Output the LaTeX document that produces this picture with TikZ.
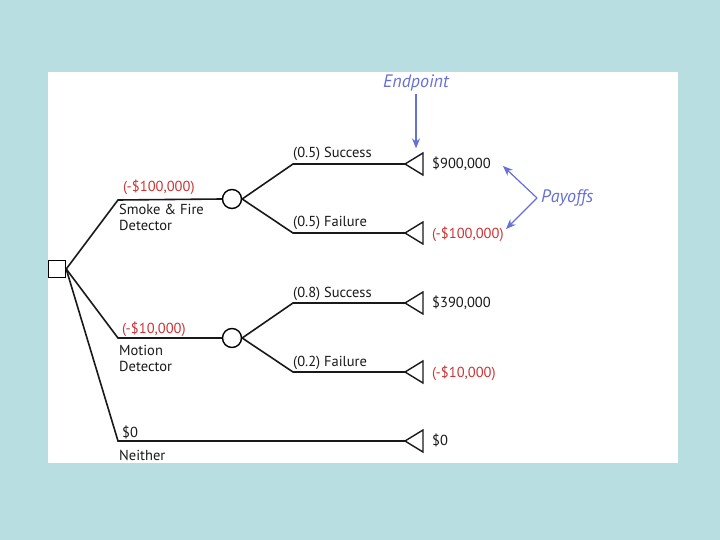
\documentclass[tikz,border=0pt]{standalone}
\usepackage{fontspec}
\setmainfont{PT Sans}
\usetikzlibrary{arrows.meta}
\definecolor{bgc}{RGB}{184,222,226}
\definecolor{payred}{RGB}{205,52,52}
\definecolor{noteblue}{RGB}{102,112,214}
\begin{document}
\begin{tikzpicture}[x=1pt,y=-1pt,
  ln/.style={line width=1.6pt,black!90},
  lbl/.style={font=\fontsize{14.5}{15.5}\selectfont,inner sep=0pt,anchor=base west,text=black!90,align=left},
  rlbl/.style={lbl,text=payred},
  note/.style={font=\fontsize{18}{20}\selectfont\itshape,inner sep=0pt,text=noteblue},
  narrow/.style={draw=noteblue,line width=1.2pt,-{Stealth[length=10pt,width=8pt]}},
  chance/.style={draw,circle,line width=1.4pt,minimum size=19pt,inner sep=0pt},
  decision/.style={draw,rectangle,line width=1.4pt,minimum size=17pt,inner sep=0pt},
  endtri/.style={line width=1.4pt,black!90}]
\fill[bgc] (0,0) rectangle (720,540);
\fill[white] (48,72) rectangle (678,463);
\useasboundingbox (0,0) rectangle (720,540);

% decision and chance nodes
\node[decision] (sq) at (57,269) {};
\node[chance] (ch1) at (232,199) {};
\node[chance] (ch2) at (232,338) {};

% corner coordinates
\coordinate (k1) at (118,200);
\coordinate (k2) at (118,338);
\coordinate (k3) at (118,441);
\coordinate (u1) at (293,164);
\coordinate (d1) at (293,233);
\coordinate (u2) at (293,303);
\coordinate (d2) at (293,372);

% endpoint tips
\coordinate (e1) at (405,164);
\coordinate (e2) at (405,233);
\coordinate (e3) at (405,303);
\coordinate (e4) at (405,372);
\coordinate (e5) at (405,441);

% branches
\draw[ln] (sq.east) -- (k1) -- (ch1.west);
\draw[ln] (sq.east) -- (k2) -- (ch2.west);
\draw[ln] (sq.east) -- (k3) -- (e5);
\draw[ln] (ch1.east) -- (u1) -- (e1);
\draw[ln] (ch1.east) -- (d1) -- (e2);
\draw[ln] (ch2.east) -- (u2) -- (e3);
\draw[ln] (ch2.east) -- (d2) -- (e4);

% endpoint triangles
\foreach \e in {e1,e2,e3,e4,e5}{
  \draw[endtri] (\e) -- ++(18,-11) -- ++(0,22) -- cycle;
}

% branch labels
\node[rlbl] (c1) at (123,192) {(-\$100,000)};
\node[lbl] (n1) at (119,230) {Smoke \& Fire\\Detector};
\node[rlbl] (c2) at (122,333) {(-\$10,000)};
\node[lbl] (n2) at (119,371) {Motion\\Detector};
\node[lbl] (c3) at (122,437) {\$0};
\node[lbl] (n3) at (119,460) {Neither};

\node[lbl] (p1) at (293,158) {(0.5) Success};
\node[lbl] (p2) at (293,226) {(0.5) Failure};
\node[lbl] (p3) at (293,297) {(0.8) Success};
\node[lbl] (p4) at (293,366) {(0.2) Failure};

% payoffs
\node[lbl] (v1) at (432,169) {\$900,000};
\node[rlbl] (v2) at (432,238) {(-\$100,000)};
\node[lbl] (v3) at (432,307) {\$390,000};
\node[rlbl] (v4) at (432,377) {(-\$10,000)};
\node[lbl] (v5) at (432,445) {\$0};

% annotations
\node[note] (ep) at (416,83) {Endpoint};
\draw[narrow] (ep.south) ++(0,3) -- ++(0,54) coordinate (ept);
\node[note,anchor=west] (po) at (541,198) {Payoffs};
\coordinate (pa) at (503,166);
\coordinate (pb) at (506,229);
\draw[narrow] (po.west) ++(-4,0) coordinate (pj) -- (pa);
\draw[narrow] (pj) -- (pb);
\end{tikzpicture}
\end{document}
